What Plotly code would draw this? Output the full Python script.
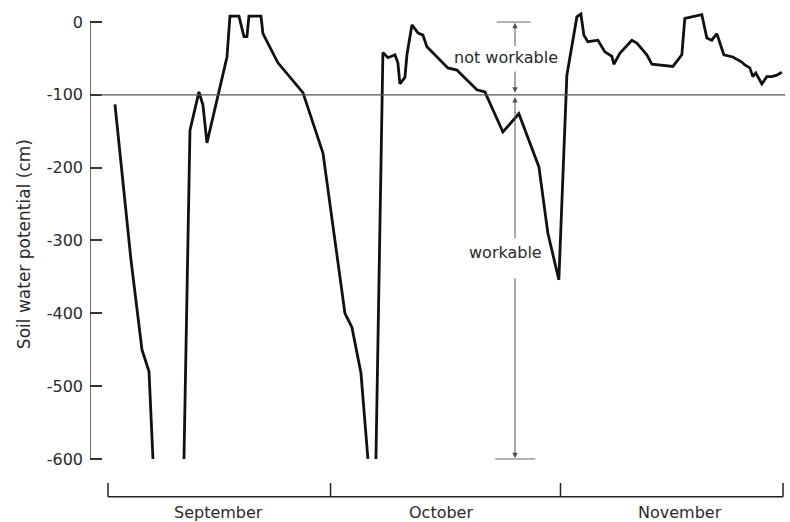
import plotly.graph_objects as go

# Days counted from 1 September (0 = start of September, 91 = end of November)
days_sep_a = [0.94, 3.10, 4.58, 5.53, 6.06]
psi_sep_a = [-113, -327, -450, -480, -600]

days_sep_b = [10.24, 11.05, 12.26, 12.80, 13.34, 16.04, 16.44, 17.65, 18.33, 18.73,
              19.00, 20.62, 20.89, 22.91, 26.28, 26.82, 28.98, 31.94, 32.88, 34.10, 35.04]
psi_sep_b = [-600, -149, -96, -114, -166, -48, 8, 8, -20, -20,
             8, 8, -16, -56, -97, -113, -180, -400, -419, -482, -600]

days_oct_nov = [36.12, 37.06, 37.74, 38.68, 39.08, 39.35, 40.03, 40.30, 40.97, 41.78,
                42.45, 42.99, 45.82, 47.03, 49.73, 50.81, 53.24, 55.39, 58.09, 59.30,
                60.78, 61.86, 63.21, 63.75, 64.15, 64.69, 66.04, 66.98, 67.92, 68.19,
                69.00, 70.62, 71.29, 72.64, 73.32, 74.12, 76.15, 77.36, 77.76, 80.05,
                80.73, 81.40, 82.08, 83.02, 84.23, 85.44, 85.85, 86.52, 86.93, 87.33,
                88.14, 88.81, 89.49, 90.16, 90.83]
psi_oct_nov = [-600, -42, -49, -45, -56, -85, -76, -45, -4, -15,
               -18, -34, -63, -66, -93, -96, -151, -126, -199, -290,
               -354, -73, 7, 11, -18, -27, -25, -41, -47, -58,
               -43, -25, -29, -45, -58, -59, -61, -45, 5, 10,
               -22, -25, -16, -45, -48, -55, -59, -63, -75, -70,
               -85, -75, -75, -73, -69]

month_names = ["September", "October", "November"]
month_starts = [0, 30, 61, 91]

y_ticks = [0, -100, -200, -300, -400, -500, -600]
y_tick_text = ["0", "-100", "-200", "-300", "-400", "-500", "-600"]

workability_index = -100

FONT = "DejaVu Sans"
TXT = "#2a2a2a"

# join the measured stretches, with breaks where the curve leaves the scale
xs = days_sep_a + [None] + days_sep_b + [None] + days_oct_nov
ys = psi_sep_a + [None] + psi_sep_b + [None] + psi_oct_nov

fig = go.Figure()
fig.add_trace(go.Scatter(
    x=xs, y=ys, mode="lines", connectgaps=False,
    line=dict(color="#111111", width=2.8), hoverinfo="skip", showlegend=False,
))

shapes = []
# y axis line (0 .. -600 only)
shapes.append(dict(type="line", xref="x", yref="y", x0=-2.43, x1=-2.43, y0=0, y1=-600,
                   line=dict(color="#333333", width=1.5)))
# workability index line
shapes.append(dict(type="line", xref="x", yref="y", x0=-1.1, x1=91.3,
                   y0=workability_index, y1=workability_index,
                   line=dict(color="#555555", width=1.3)))
# month bracket along the bottom
bracket_y = -652
shapes.append(dict(type="line", xref="x", yref="y", x0=month_starts[0], x1=month_starts[-1],
                   y0=bracket_y, y1=bracket_y, line=dict(color="#222222", width=1.5)))
for m in month_starts:
    shapes.append(dict(type="line", xref="x", yref="y", x0=m, x1=m,
                       y0=bracket_y, y1=bracket_y + 19, line=dict(color="#222222", width=1.5)))

# range bars for the workable / not workable span
arrow_x = 54.87
shapes.append(dict(type="line", xref="x", yref="y", x0=52.4, x1=57.0, y0=0, y1=0,
                   line=dict(color="#666666", width=1)))
shapes.append(dict(type="line", xref="x", yref="y", x0=52.2, x1=57.6, y0=-600, y1=-600,
                   line=dict(color="#666666", width=1)))

annotations = []
arrow_style = dict(showarrow=True, arrowhead=2, arrowsize=1.1, arrowwidth=1,
                   arrowcolor="#555555", xref="x", yref="y", axref="x", ayref="y", text="")
for tail, head in [(-35, -1), (-66, -97), (-299, -103), (-350, -599)]:
    annotations.append(dict(x=arrow_x, y=head, ax=arrow_x, ay=tail, **arrow_style))

annotations.append(dict(x=53.65, y=-49, xref="x", yref="y", text="not workable",
                        showarrow=False, font=dict(family=FONT, size=16, color=TXT)))
annotations.append(dict(x=53.65, y=-317, xref="x", yref="y", text="workable",
                        showarrow=False, font=dict(family=FONT, size=16, color=TXT)))
annotations.append(dict(x=91.45, y=-124, xref="x", yref="y", text="workability index -100 cm",
                        xanchor="right", showarrow=False, font=dict(family=FONT, size=16, color=TXT)))

month_centres = [14.83, 44.9, 77.1]
for name, cx in zip(month_names, month_centres):
    annotations.append(dict(x=cx, y=-674, xref="x", yref="y", text=name, showarrow=False,
                            font=dict(family=FONT, size=16, color=TXT)))

# y-title position is given in pixels relative to the plot's left edge
annotations.append(dict(x=(24 - 90) / (790 - 94), y=-305, xref="paper", yref="y",
                        text="Soil water potential (cm)", textangle=-90, showarrow=False,
                        xanchor="center", font=dict(family=FONT, size=17, color=TXT)))

fig.update_layout(
    width=790, height=522,
    margin=dict(l=90, r=4, t=10, b=2),
    paper_bgcolor="white", plot_bgcolor="white",
    shapes=shapes, annotations=annotations,
    xaxis=dict(range=[-2.4266, 91.40], visible=False, fixedrange=True),
    yaxis=dict(range=[-683.8, 16.48], showgrid=False, zeroline=False, showline=False,
               tickvals=y_ticks, ticktext=y_tick_text, ticks="inside", ticklen=12,
               tickwidth=1.5, tickcolor="#333333", ticklabelstandoff=6,
               tickfont=dict(family=FONT, size=16, color=TXT), fixedrange=True),
)

fig.write_html("out.html")
